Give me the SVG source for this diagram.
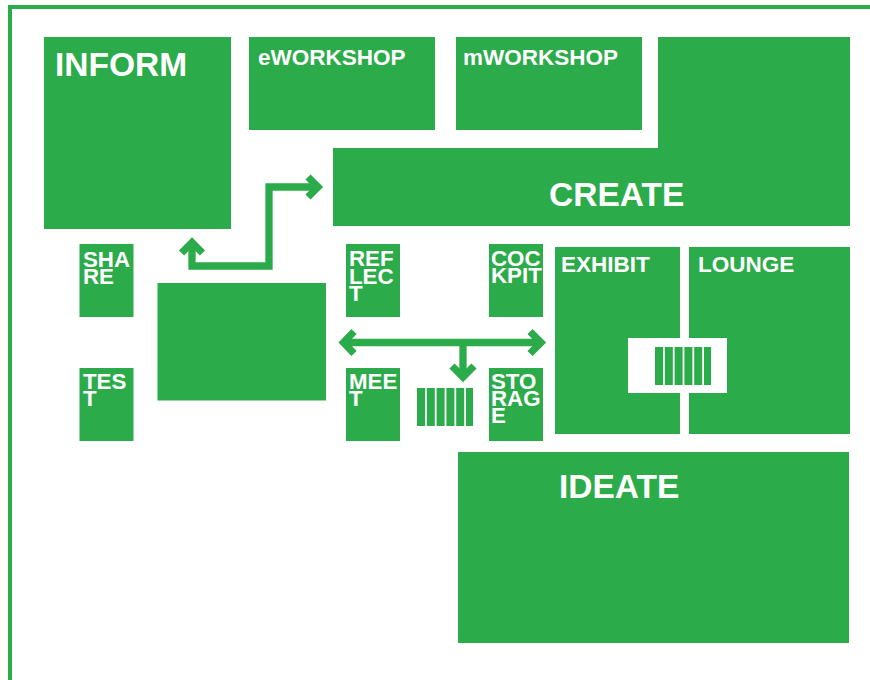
<svg xmlns="http://www.w3.org/2000/svg" width="870" height="680" viewBox="0 0 870 680">
<style>
.b{fill:#2BAB4A}
.w{fill:#fff}
text{fill:#fff;font-family:"Liberation Sans",Arial,sans-serif;font-weight:700}
.l{font-size:33.500px}
.m{font-size:22.500px}
.s{font-size:22.300px}
.c{fill:none;stroke:#2BAB4A;stroke-width:7.300}
</style>
<defs>
<g id="bars" class="b">
<rect x="0" width="8" height="38"/><rect x="9.800" width="8" height="38"/><rect x="19.600" width="8" height="38"/><rect x="29.400" width="8" height="38"/><rect x="39.200" width="8" height="38"/><rect x="49" width="7" height="38"/>
</g>
</defs>
<path id="frame" d="M10,680V7H870" fill="none" stroke="#2BAB4A" stroke-width="4"/>
<g id="inform"><rect class="b" x="44" y="37" width="187" height="192"/><text class="l" x="55" y="76">INFORM</text></g>
<g id="eworkshop"><rect class="b" x="249" y="37" width="186" height="93"/><text class="m" x="258" y="65">eWORKSHOP</text></g>
<g id="mworkshop"><rect class="b" x="456" y="37" width="186" height="93"/><text class="m" x="463" y="65">mWORKSHOP</text></g>
<g id="create"><polygon class="b" points="658,37 850,37 850,226 333,226 333,148 658,148"/><text class="l" x="549" y="206">CREATE</text></g>
<g id="share"><rect class="b" x="79.500" y="244" width="54" height="73"/><text class="s" x="83" y="267">SHA<tspan x="83" dy="17">RE</tspan></text></g>
<g id="test"><rect class="b" x="79.500" y="368" width="54" height="73"/><text class="s" x="83" y="389">TES<tspan x="83" dy="17">T</tspan></text></g>
<g id="center"><rect class="b" x="157.500" y="283" width="168.500" height="117.500"/></g>
<g id="reflect"><rect class="b" x="346" y="244" width="54" height="73"/><text class="s" x="349" y="266">REF<tspan x="349" dy="17.500">LEC</tspan><tspan x="349" dy="17.500">T</tspan></text></g>
<g id="cockpit"><rect class="b" x="489" y="244" width="54" height="73"/><text class="s" x="491" y="266">COC<tspan x="491" dy="17">KPIT</tspan></text></g>
<g id="meet"><rect class="b" x="346" y="368" width="54" height="73"/><text class="s" x="349" y="389">MEE<tspan x="349" dy="17">T</tspan></text></g>
<g id="storage"><rect class="b" x="489" y="368" width="54" height="73"/><text class="s" x="491" y="389">STO<tspan x="491" dy="17">RAG</tspan><tspan x="491" dy="17">E</tspan></text></g>
<g id="stack-a"><use href="#bars" x="417" y="388"/></g>
<g id="exhibit"><rect class="b" x="555" y="247" width="125" height="187"/><text class="m" x="561" y="272">EXHIBIT</text></g>
<g id="lounge"><rect class="b" x="689" y="247" width="161" height="187"/><text class="m" x="698" y="272">LOUNGE</text></g>
<g id="stack-b"><rect class="w" x="628" y="338" width="99" height="55"/><use href="#bars" x="655" y="347"/></g>
<g id="ideate"><rect class="b" x="458" y="452" width="391" height="191"/><text class="l" x="559" y="498">IDEATE</text></g>
<g id="connectors">
<path class="c" d="M192,243V266H269V187H317"/>
<path class="c" d="M181.500,253L192,242.500L202.500,253"/>
<path class="c" d="M308,177L318,187L308,197"/>
<path class="c" d="M345,342.500H539"/>
<path class="c" d="M354,331.500L343.500,342.500L354,353.500"/>
<path class="c" d="M530,331.500L541,342.500L530,353.500"/>
<path class="c" d="M463,342.500V375"/>
<path class="c" d="M452,366L463,377L474,366"/>
</g>
</svg>
